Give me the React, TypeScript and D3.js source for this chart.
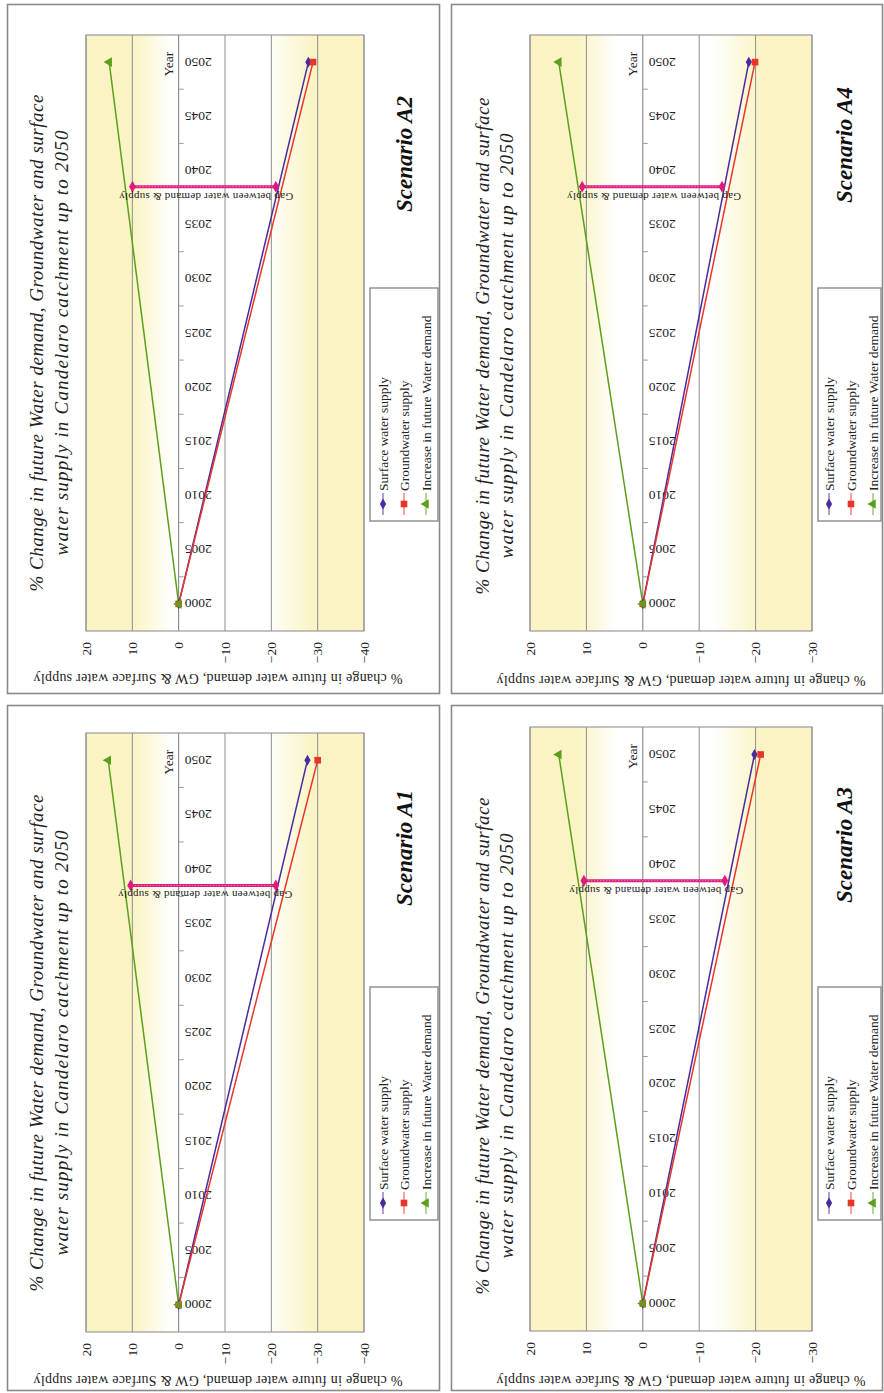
import React from "react";
import * as d3 from "d3";

// ---------- data ----------
const years = ["2000", "2005", "2010", "2015", "2020", "2025", "2030", "2035", "2040", "2045", "2050"];
const endYears = [2000, 2050];
const seriesNames = ["Surface water supply", "Groundwater supply", "Increase in future Water demand"];
const titleLines = [
  "% Change in future Water demand, Groundwater and surface",
  "water supply in Candelaro catchment up to 2050",
];
const valueAxisTitle = "% change in future water demand, GW & Surface water supply";
const categoryAxisTitle = "Year";
const gapLabel = "Gap between water demand & supply";
const gapYear = 2038.5;

const ticksWide = [20, 10, 0, -10, -20, -30, -40];
const ticksNarrow = [20, 10, 0, -10, -20, -30];

// values at 2000 and 2050
const surfaceA2 = [0, -28];
const groundA2 = [0, -29];
const demandA2 = [0, 15];
const gapA2 = [10.4, -21.4];

const surfaceA4 = [0, -18.8];
const groundA4 = [0, -19.9];
const demandA4 = [0, 14.9];
const gapA4 = [11.1, -14.4];

const surfaceA1 = [0, -27.8];
const groundA1 = [0, -30];
const demandA1 = [0, 15.2];
const gapA1 = [10.8, -21.4];

const surfaceA3 = [0, -19.8];
const groundA3 = [0, -20.9];
const demandA3 = [0, 14.9];
const gapA3 = [10.8, -14.9];

// ---------- styles ----------
const COLORS = ["#4A2B9E", "#E8352B", "#5C9F1C"];
const GAP_COLOR = "#DE1A7F";
const YELLOW = "#FAF4C4";
const SERIF = "Liberation Serif";

type Layout = {
  id: string;
  name: string;
  box: [number, number, number, number];
  plot: [number, number, number, number]; // x0,x1,y0(top),y1(bottom)
  ticks: number[];
  titleX: [number, number];
  titleY: number;
  scen: [number, number];
  vTitle: [number, number];
  legend: { box: [number, number, number, number]; cols: number[]; textY: number; markY: number };
};

const layouts: Layout[] = [
  {
    id: "a2", name: "Scenario A2", box: [7.5, 4.5, 432, 689], plot: [86, 364, 35, 631], ticks: ticksWide,
    titleX: [36, 61], titleY: 343, scen: [404, 154], vTitle: [218, 678],
    legend: { box: [370, 288, 68, 233], cols: [383, 404, 426], textY: 491, markY: 504 },
  },
  {
    id: "a4", name: "Scenario A4", box: [451.5, 4.5, 431, 689], plot: [530, 812, 35, 631], ticks: ticksNarrow,
    titleX: [482, 506], titleY: 346, scen: [844, 145], vTitle: [681, 680],
    legend: { box: [818, 288, 63, 233], cols: [829, 851, 873], textY: 491, markY: 504 },
  },
  {
    id: "a1", name: "Scenario A1", box: [7.5, 705.5, 432, 685], plot: [86, 364, 733, 1332], ticks: ticksWide,
    titleX: [36, 61], titleY: 1043, scen: [404, 848], vTitle: [218, 1380],
    legend: { box: [370, 987, 68, 233], cols: [383, 404, 426], textY: 1190, markY: 1203 },
  },
  {
    id: "a3", name: "Scenario A3", box: [451.5, 705.5, 431, 685], plot: [530, 812, 727, 1331], ticks: ticksNarrow,
    titleX: [482, 506], titleY: 1046, scen: [844, 845], vTitle: [681, 1380],
    legend: { box: [818, 987, 63, 233], cols: [829, 851, 873], textY: 1190, markY: 1203 },
  },
];

const panelData = [
  { series: [surfaceA2, groundA2, demandA2], gap: gapA2 },
  { series: [surfaceA4, groundA4, demandA4], gap: gapA4 },
  { series: [surfaceA1, groundA1, demandA1], gap: gapA1 },
  { series: [surfaceA3, groundA3, demandA3], gap: gapA3 },
];

const fmt = (v: number) => (v < 0 ? "\u2212" + Math.abs(v) : String(v));

function Marker({ kind, x, y }: { kind: number; x: number; y: number }) {
  if (kind === 0) {
    const p = d3.symbol(d3.symbolDiamond, 34)();
    return <path d={p || ""} transform={`translate(${x},${y})`} fill={COLORS[0]} />;
  }
  if (kind === 1) {
    const p = d3.symbol(d3.symbolSquare, 44)();
    return <path d={p || ""} transform={`translate(${x},${y})`} fill={COLORS[1]} />;
  }
  const p = d3.symbol(d3.symbolTriangle, 40)();
  return <path d={p || ""} transform={`translate(${x},${y}) rotate(-90)`} fill={COLORS[2]} />;
}

function Panel({ L, D }: { L: Layout; D: { series: number[][]; gap: number[] } }) {
  const [x0, x1, y0, y1] = L.plot;
  const xs = d3.scaleLinear().domain([20, L.ticks[L.ticks.length - 1]]).range([x0, x1]);
  const band = d3.scaleBand().domain(years).range([y1, y0]);
  const yc = (yr: string) => (band(yr) as number) + band.bandwidth() / 2;
  const yLin = d3.scaleLinear().domain([2000, 2050]).range([yc("2000"), yc("2050")]);
  const line = d3
    .line<[number, number]>()
    .x((d) => xs(d[1]))
    .y((d) => yLin(d[0]));
  const ax = xs(0);
  const gy = yLin(gapYear);
  const gxa = xs(D.gap[0]);
  const gxb = xs(D.gap[1]);
  const boundaries = d3.range(0, years.length + 1).map((k) => y1 - k * band.bandwidth());
  const gid = "grad-" + L.id;
  const [bx, by, bw, bh] = L.box;
  const lg = L.legend;

  return (
    <g fontFamily={SERIF}>
      <defs>
        <linearGradient id={gid} x1="0" y1="0" x2="1" y2="0">
          <stop offset="0" stopColor={YELLOW} />
          <stop offset="0.17" stopColor={YELLOW} />
          <stop offset="0.31" stopColor="#FFFFFF" />
          <stop offset="0.64" stopColor="#FFFFFF" />
          <stop offset="0.82" stopColor={YELLOW} />
          <stop offset="1" stopColor={YELLOW} />
        </linearGradient>
      </defs>
      <rect x={bx} y={by} width={bw} height={bh} fill="#fff" stroke="#8a8a8a" strokeWidth={1.6} />
      {/* plot area */}
      <rect x={x0} y={y0} width={x1 - x0} height={y1 - y0} fill={`url(#${gid})`} />
      {L.ticks.map((t) => (
        <line key={"g" + t} x1={xs(t)} x2={xs(t)} y1={y0} y2={y1} stroke={t === 0 ? "#7a7a7a" : "#8e8e8e"} strokeWidth={1} />
      ))}
      <rect x={x0} y={y0} width={x1 - x0} height={y1 - y0} fill="none" stroke="#9a9a9a" strokeWidth={1.2} />
      {boundaries.slice(1, -1).map((b, i) => (
        <line key={"t" + i} x1={ax} x2={ax + 5} y1={b} y2={b} stroke="#9a9a9a" strokeWidth={1} />
      ))}
      {/* value tick labels */}
      {L.ticks.map((t) => (
        <text
          key={"l" + t}
          transform={`translate(${xs(t)},${y1 + 11}) rotate(-90)`}
          textAnchor="end"
          dominantBaseline="central"
          fontSize={13.5}
          fill="#222"
        >
          {fmt(t)}
        </text>
      ))}
      {/* year labels */}
      {years.map((yr) => (
        <text
          key={"y" + yr}
          transform={`translate(${ax + 6},${yc(yr)}) rotate(180)`}
          textAnchor="end"
          dominantBaseline="central"
          fontSize={13.5}
          fill="#222"
        >
          {yr}
        </text>
      ))}
      <text
        transform={`translate(${ax - 10},${yc("2050") + 2}) rotate(-90)`}
        textAnchor="middle"
        dominantBaseline="central"
        fontSize={13.5}
        fill="#222"
      >
        {categoryAxisTitle}
      </text>
      {/* series */}
      {D.series.map((s, i) => (
        <path
          key={"s" + i}
          d={line(endYears.map((yr, k) => [yr, s[k]] as [number, number])) || ""}
          fill="none"
          stroke={COLORS[i]}
          strokeWidth={1.5}
        />
      ))}
      {D.series.map((s, i) =>
        endYears.map((yr, k) => <Marker key={"m" + i + "-" + k} kind={i} x={xs(s[k])} y={yLin(yr)} />)
      )}
      {/* gap arrow */}
      <line x1={gxa} x2={gxb} y1={gy} y2={gy} stroke={GAP_COLOR} strokeWidth={3} />
      <line x1={gxa} x2={gxb} y1={gy} y2={gy} stroke="#F07AB5" strokeWidth={1} strokeDasharray="1.5 1.5" />
      <path d={d3.symbol(d3.symbolDiamond, 40)() || ""} transform={`translate(${gxa + 2},${gy})`} fill={GAP_COLOR} />
      <path d={d3.symbol(d3.symbolDiamond, 40)() || ""} transform={`translate(${gxb - 2},${gy})`} fill={GAP_COLOR} />
      <text
        transform={`translate(${(gxa + gxb) / 2 + 2},${gy + 10}) rotate(180)`}
        textAnchor="middle"
        dominantBaseline="central"
        fontSize={11}
        fill="#222"
        textLength={174}
        lengthAdjust="spacing"
      >
        {gapLabel}
      </text>
      {/* titles */}
      {titleLines.map((t, i) => (
        <text
          key={"tt" + i}
          transform={`translate(${L.titleX[i]},${L.titleY}) rotate(-90)`}
          textAnchor="middle"
          dominantBaseline="central"
          fontSize={19}
          fontStyle="italic"
          fill="#222"
          textLength={i === 0 ? 497 : 425}
          lengthAdjust="spacing"
        >
          {t}
        </text>
      ))}
      <text
        transform={`translate(${L.scen[0]},${L.scen[1]}) rotate(-90)`}
        textAnchor="middle"
        dominantBaseline="central"
        fontSize={23}
        fontStyle="italic"
        fontWeight="bold"
        fill="#111"
      >
        {L.name}
      </text>
      <text
        transform={`translate(${L.vTitle[0]},${L.vTitle[1]}) rotate(180)`}
        textAnchor="middle"
        dominantBaseline="central"
        fontSize={14}
        fill="#222"
        textLength={369}
        lengthAdjust="spacing"
      >
        {valueAxisTitle}
      </text>
      {/* legend */}
      <rect x={lg.box[0]} y={lg.box[1]} width={lg.box[2]} height={lg.box[3]} fill="#fff" stroke="#8a8a8a" strokeWidth={1.4} />
      {seriesNames.map((n, i) => (
        <g key={"lg" + i}>
          <line x1={lg.cols[i]} x2={lg.cols[i]} y1={lg.markY - 11} y2={lg.markY + 11} stroke={COLORS[i]} strokeWidth={1.5} opacity={0.6} />
          <Marker kind={i} x={lg.cols[i]} y={lg.markY} />
          <text
            transform={`translate(${lg.cols[i]},${lg.textY}) rotate(-90)`}
            textAnchor="start"
            dominantBaseline="central"
            fontSize={13.5}
            fill="#222"
          >
            {n}
          </text>
        </g>
      ))}
    </g>
  );
}

export default function App() {
  return (
    <svg width={884} height={1393} style={{ position: "absolute", left: 0, top: 0, background: "#fff" }}>
      <rect x={0} y={0} width={884} height={1393} fill="#fff" />
      {layouts.map((L, i) => (
        <Panel key={L.id} L={L} D={panelData[i]} />
      ))}
    </svg>
  );
}
